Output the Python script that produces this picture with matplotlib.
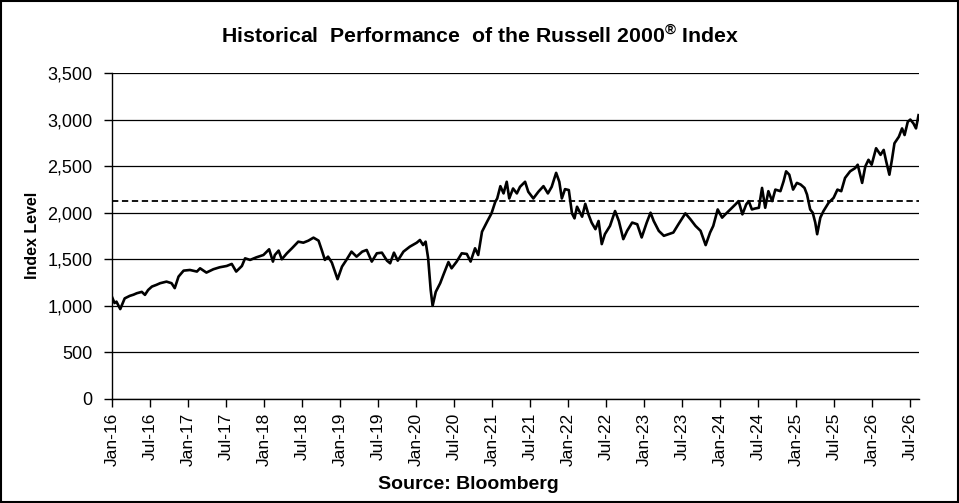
import numpy as np
import pandas as pd
import matplotlib
matplotlib.use('Agg')
import matplotlib.pyplot as plt
import matplotlib.dates as mdates
from matplotlib.ticker import FuncFormatter, MultipleLocator
from matplotlib.patches import Rectangle

plt.rcParams['font.family'] = ['Liberation Sans', 'DejaVu Sans']
plt.rcParams['mathtext.fontset'] = 'custom'
plt.rcParams['mathtext.rm'] = 'Liberation Sans'
plt.rcParams['mathtext.bf'] = 'Liberation Sans:bold'

# months since Jan-2016 and index level
months = [0.0, 0.4, 0.7, 1.3, 2.0, 2.8, 3.4, 3.9, 4.7, 5.2, 5.7, 6.3, 7.0, 7.6, 8.6, 9.4, 9.9,
          10.5, 11.3, 12.3, 13.4, 13.9, 14.9, 16.0, 17.0, 18.1, 18.9, 19.6, 20.5, 21.0, 21.8,
          22.8, 23.9, 24.8, 25.4, 25.7, 26.3, 26.8, 27.6, 28.4, 29.4, 30.2, 31.0, 31.8, 32.6,
          33.1, 33.6, 34.1, 34.7, 35.6, 36.3, 37.0, 37.8, 38.6, 39.5, 40.2, 41.0, 41.8, 42.6,
          43.4, 43.9, 44.5, 45.1, 46.0, 47.0, 48.1, 48.6, 49.1, 49.5, 49.9, 50.3, 50.6, 51.1,
          51.8, 52.3, 53.1, 53.6, 54.4, 55.2, 56.0, 56.6, 57.3, 57.8, 58.4, 59.2, 59.9, 60.5,
          60.8, 61.3, 61.8, 62.3, 62.7, 63.3, 63.9, 64.4, 65.2, 65.7, 66.5, 67.3, 68.1, 68.8,
          69.4, 70.1, 70.6, 71.0, 71.5, 72.1, 72.6, 73.0, 73.4, 74.2, 74.7, 75.2, 75.7, 76.3,
          76.8, 77.3, 77.8, 78.6, 79.4, 80.0, 80.7, 81.3, 82.1, 82.9, 83.6, 84.4, 85.0, 85.5,
          86.3, 87.1, 87.9, 88.6, 89.4, 90.5, 91.3, 92.1, 92.9, 93.7, 94.4, 94.9, 95.6, 96.3,
          96.8, 97.6, 98.4, 98.9, 99.5, 100.1, 100.5, 101.0, 101.5, 102.1, 102.6, 103.1, 103.6,
          104.2, 104.7, 105.5, 106.0, 106.4, 106.9, 107.5, 108.1, 108.7, 109.3, 109.7, 110.2,
          110.6, 111.0, 111.3, 111.8, 112.3, 113.1, 113.9, 114.5, 115.1, 115.7, 116.5, 117.3,
          117.7, 118.4, 118.9, 119.4, 119.9, 120.6, 121.3, 121.8, 122.2, 122.7, 123.1, 123.5,
          124.2, 124.7, 125.1, 125.6, 126.0, 126.5, 126.9, 127.3]
index_level = [1095, 1030, 1045, 965, 1080, 1107, 1120, 1135, 1150, 1118, 1170, 1207, 1225, 1243,
               1260, 1243, 1190, 1314, 1378, 1385, 1368, 1403, 1357, 1393, 1414, 1428, 1450, 1368,
               1428, 1510, 1493, 1521, 1546, 1607, 1475, 1546, 1593, 1500, 1564, 1618, 1689, 1678,
               1700, 1732, 1700, 1600, 1493, 1528, 1464, 1286, 1421, 1493, 1582, 1528, 1582, 1600,
               1475, 1564, 1571, 1485, 1457, 1571, 1485, 1582, 1635, 1678, 1707, 1653, 1689, 1510,
               1171, 1000, 1150, 1243, 1332, 1470, 1403, 1475, 1564, 1557, 1475, 1618, 1546, 1796,
               1903, 1993, 2118, 2153, 2285, 2207, 2332, 2153, 2260, 2207, 2278, 2332, 2225, 2153,
               2225, 2285, 2207, 2278, 2428, 2332, 2153, 2253, 2243, 1993, 1939, 2064, 1957, 2095,
               1982, 1894, 1823, 1911, 1663, 1770, 1858, 2018, 1911, 1716, 1805, 1894, 1876, 1734,
               1894, 2000, 1911, 1805, 1752, 1770, 1787, 1876, 1993, 1929, 1858, 1805, 1652, 1787,
               1858, 2035, 1947, 1982, 2035, 2089, 2124, 1982, 2089, 2124, 2035, 2045, 2053, 2266,
               2053, 2231, 2124, 2248, 2231, 2337, 2444, 2408, 2248, 2320, 2302, 2266, 2195, 2035,
               2000, 1894, 1769, 1947, 2018, 2106, 2160, 2248, 2231, 2373, 2444, 2479, 2515, 2320,
               2497, 2568, 2515, 2692, 2621, 2674, 2550, 2408, 2568, 2745, 2816, 2905, 2834, 2976,
               3000, 2958, 2905, 3047]
average_level = 2130

dates = pd.Timestamp('2016-01-01') + pd.to_timedelta(np.array(months) * 30.4375, unit='D')

fig = plt.figure(figsize=(9.59, 5.03), dpi=100)
ax = fig.add_axes([0.1168, 0.2068, 0.8415, 0.6481])

ax.plot(dates, index_level, color='black', lw=1.9, zorder=3)
ax.axhline(average_level, color='black', lw=1.3, ls=(0, (3.5, 2)), zorder=2)

ax.set_ylim(0, 3500)
ax.yaxis.set_major_locator(MultipleLocator(500))
ax.yaxis.set_major_formatter(FuncFormatter(lambda v, p: f'{v:,.0f}'))
ax.set_xlim(pd.Timestamp('2016-01-01'), pd.Timestamp('2026-08-13'))
ax.xaxis.set_major_locator(mdates.MonthLocator(bymonth=[1, 7]))
ax.xaxis.set_major_formatter(mdates.DateFormatter('%b-%y'))

ax.grid(axis='y', color='black', lw=0.9)
ax.set_axisbelow(True)
for s in ['top', 'right']:
    ax.spines[s].set_visible(False)
for s in ['left', 'bottom']:
    ax.spines[s].set_linewidth(1.0)
ax.tick_params(axis='y', direction='out', length=6, width=1, labelsize=13, pad=8)
ax.tick_params(axis='x', direction='out', length=6, width=1, labelsize=12.5, labelrotation=90, pad=4)

fig.text(0.5, 0.930, r'Historical  Performance  of the Russell 2000$^{\mathbf{®}}$ Index',
         ha='center', va='center', fontsize=15.3, fontweight='bold')
fig.text(0.0344, 0.533, 'Index Level', rotation=90, ha='center', va='center',
         fontsize=11.5, fontweight='bold')
fig.text(0.488, 0.036, 'Source: Bloomberg', ha='center', va='center',
         fontsize=14, fontweight='bold')

fig.patches.append(Rectangle((0.001, 0.001), 0.998, 0.998, transform=fig.transFigure,
                             fill=False, edgecolor='black', lw=1.5))

fig.savefig('out.png', dpi=100)
